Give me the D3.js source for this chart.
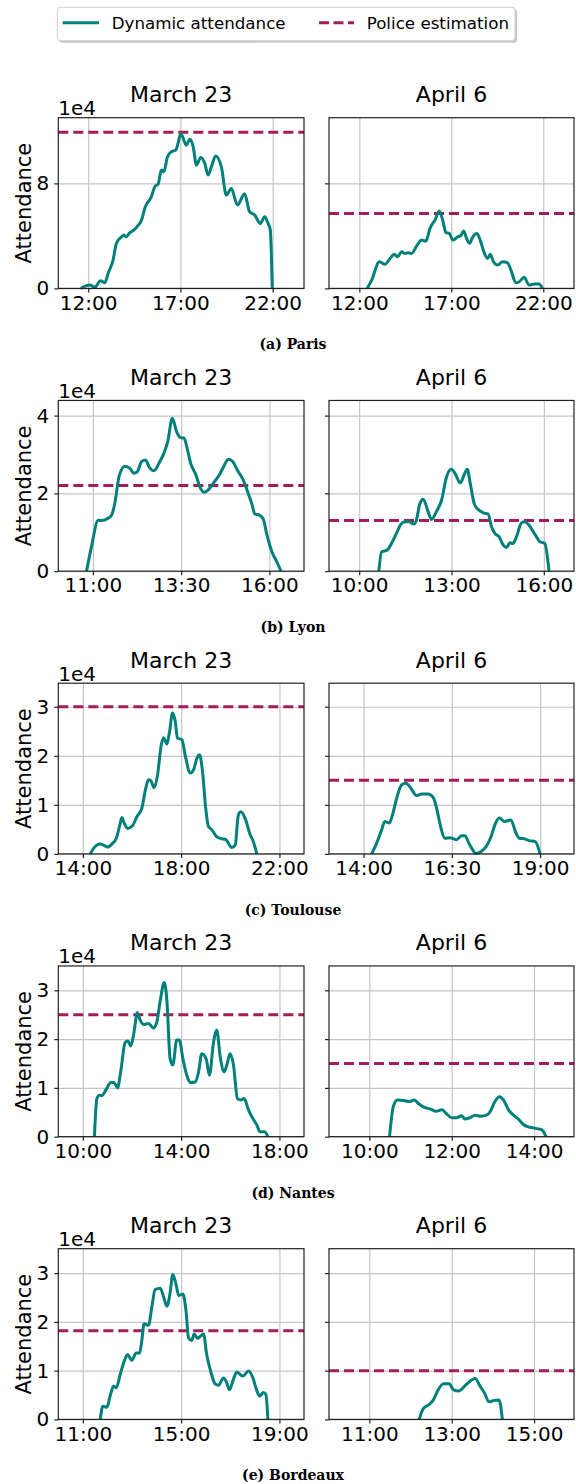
<!DOCTYPE html>
<meta charset="utf-8">
<style>
body { margin: 0; background: #fff; }
text { font-family: "DejaVu Sans", sans-serif; fill: #000; }
.grid line { stroke: #c6c6c6; stroke-width: 1.2px; }
.grid path { display: none; }
.axis path { display: none; }
.axis line { stroke: #222; stroke-width: 1.2px; }
.axis text { font-size: 20px; font-family: "DejaVu Sans", sans-serif; }
.attend { fill: none; stroke: #00807a; stroke-width: 3px; stroke-linejoin: round; }
.police { stroke: #a51c5a; stroke-width: 3px; stroke-dasharray: 10,5; }
.frame { fill: none; stroke: #222; stroke-width: 1.2px; }
.caption { font-family: "DejaVu Serif", serif; font-weight: bold; font-size: 14px; }
</style>
<body>
<script src="https://d3js.org/d3.v7.min.js"></script>
<script>

// panel names
var captions = ["(a) Paris", "(b) Lyon", "(c) Toulouse", "(d) Nantes", "(e) Bordeaux"];
var dayTitles = ["March 23", "April 6"];

// [hour of day, attendance in 1e4]
var parisMar23 = [[11.60,0],[12.09,0.25],[12.36,0.10],[12.67,0.58],[12.90,0.43],[13.08,1.14],[13.35,2.16],[13.53,3.43],[13.81,3.93],[13.93,4.06],[14.04,3.93],[14.26,4.24],[14.47,4.44],[14.65,4.70],[14.89,5.20],[15.10,6.22],[15.43,7.00],[15.61,7.74],[15.79,7.94],[15.97,9.01],[16.10,8.88],[16.30,10.03],[16.51,10.41],[16.75,10.53],[16.87,11.04],[17.02,11.80],[17.32,10.91],[17.51,11.35],[17.69,10.79],[17.87,9.39],[18.10,9.97],[18.32,9.52],[18.50,8.63],[18.68,9.26],[18.91,10.08],[19.22,9.26],[19.49,7.11],[19.76,7.61],[20.09,6.35],[20.48,7.21],[20.75,5.84],[21.03,5.58],[21.33,4.95],[21.57,5.46],[21.75,4.95],[21.87,4.50],[21.98,0]];
var parisApr6 = [[12.43,0],[12.67,0.63],[13.09,2.03],[13.39,1.83],[13.67,2.28],[13.90,2.61],[14.08,2.41],[14.30,2.79],[14.48,2.66],[14.66,2.72],[14.84,2.66],[15.12,3.25],[15.39,3.68],[15.62,3.60],[15.84,4.57],[16.11,5.20],[16.35,5.89],[16.53,5.20],[16.71,4.24],[16.89,4.19],[17.09,3.68],[17.36,3.93],[17.54,4.06],[17.67,4.37],[17.85,3.73],[17.99,3.43],[18.17,3.93],[18.39,4.19],[18.57,3.68],[18.80,2.66],[18.98,2.28],[19.12,2.61],[19.29,2.03],[19.52,1.78],[19.79,2.03],[20.06,1.95],[20.24,1.40],[20.51,0.43],[20.69,0.51],[20.96,0.84],[21.23,0.25],[21.50,0.33],[21.77,0.33],[21.95,0]];
var lyonMar23 = [[10.82,0],[10.96,0.63],[11.15,1.31],[11.25,1.30],[11.43,1.36],[11.53,1.44],[11.62,1.74],[11.75,2.47],[11.91,2.70],[12.05,2.64],[12.16,2.52],[12.26,2.56],[12.38,2.82],[12.49,2.86],[12.60,2.67],[12.73,2.58],[12.88,2.79],[13.01,3.03],[13.12,3.33],[13.25,3.93],[13.37,3.59],[13.47,3.44],[13.58,3.42],[13.68,3.12],[13.77,2.77],[13.92,2.47],[14.03,2.17],[14.15,2.03],[14.27,2.09],[14.41,2.26],[14.58,2.47],[14.71,2.70],[14.84,2.88],[14.96,2.82],[15.09,2.60],[15.26,2.34],[15.40,2.00],[15.50,1.74],[15.59,1.47],[15.72,1.44],[15.83,1.33],[15.92,0.97],[16.07,0.50],[16.21,0.24],[16.33,0]];
var lyonApr6 = [[10.64,0],[10.73,0.50],[10.91,0.54],[11.05,0.71],[11.21,0.97],[11.36,1.21],[11.48,1.27],[11.62,1.27],[11.78,1.21],[11.86,1.31],[11.97,1.73],[12.08,1.85],[12.24,1.53],[12.35,1.33],[12.51,1.53],[12.68,1.83],[12.84,2.43],[13.00,2.62],[13.11,2.52],[13.29,2.27],[13.43,2.52],[13.51,2.62],[13.62,2.21],[13.74,1.73],[13.86,1.59],[14.03,1.50],[14.19,1.47],[14.30,1.14],[14.41,0.97],[14.55,0.88],[14.68,0.67],[14.79,0.61],[14.90,0.73],[14.99,0.71],[15.11,0.88],[15.27,1.24],[15.38,1.27],[15.52,1.18],[15.71,0.95],[15.87,0.76],[16.03,0.71],[16.17,0]];
var toulouseMar23 = [[14.30,0],[14.50,0.15],[14.68,0.20],[14.84,0.18],[15.00,0.14],[15.18,0.20],[15.36,0.32],[15.49,0.56],[15.59,0.74],[15.68,0.63],[15.82,0.52],[16.03,0.58],[16.20,0.76],[16.40,0.93],[16.56,1.34],[16.67,1.51],[16.77,1.49],[16.90,1.35],[17.04,1.61],[17.19,2.22],[17.28,2.37],[17.42,2.24],[17.53,2.50],[17.65,2.87],[17.76,2.70],[17.85,2.36],[18.03,2.33],[18.16,2.02],[18.37,1.65],[18.50,1.71],[18.64,1.95],[18.75,2.02],[18.87,1.68],[19.00,0.93],[19.11,0.56],[19.25,0.49],[19.45,0.35],[19.65,0.31],[19.82,0.29],[20.06,0.13],[20.20,0.18],[20.33,0.80],[20.43,0.86],[20.60,0.73],[20.81,0.39],[20.94,0.25],[21.08,0]];
var toulouseApr6 = [[14.23,0],[14.37,0.22],[14.51,0.49],[14.60,0.66],[14.73,0.63],[14.82,0.80],[14.95,1.17],[15.08,1.41],[15.20,1.44],[15.33,1.35],[15.50,1.19],[15.64,1.22],[15.83,1.22],[15.97,1.15],[16.07,0.93],[16.18,0.56],[16.30,0.32],[16.44,0.33],[16.63,0.29],[16.78,0.37],[16.87,0.37],[16.98,0.22],[17.09,0.08],[17.18,0.01],[17.33,0.05],[17.47,0.15],[17.61,0.35],[17.74,0.63],[17.85,0.73],[17.99,0.66],[18.17,0.69],[18.32,0.42],[18.41,0.32],[18.55,0.31],[18.69,0.27],[18.86,0.25],[19.00,0]];
var nantesMar23 = [[10.47,0],[10.57,0.78],[10.68,0.85],[10.77,0.84],[10.95,0.97],[11.14,1.11],[11.27,1.11],[11.41,1.00],[11.54,1.33],[11.72,1.93],[11.83,1.96],[11.95,1.86],[12.06,2.08],[12.22,2.54],[12.33,2.39],[12.49,2.30],[12.67,2.32],[12.87,2.23],[13.01,2.35],[13.15,2.79],[13.31,3.16],[13.42,2.79],[13.55,1.60],[13.66,1.47],[13.82,1.98],[13.93,1.98],[14.07,1.60],[14.23,1.26],[14.37,1.11],[14.57,1.12],[14.71,1.33],[14.84,1.70],[15.02,1.59],[15.15,1.26],[15.32,1.94],[15.45,2.18],[15.59,1.64],[15.75,1.33],[15.86,1.47],[15.99,1.70],[16.13,1.47],[16.29,0.78],[16.43,0.75],[16.56,0.78],[16.74,0.55],[16.92,0.37],[17.08,0.24],[17.21,0.10],[17.39,0.10],[17.53,0]];
var nantesApr6 = [[10.49,0],[10.58,0.61],[10.68,0.75],[10.83,0.74],[10.97,0.72],[11.09,0.75],[11.19,0.68],[11.31,0.61],[11.47,0.57],[11.62,0.52],[11.76,0.55],[11.86,0.48],[12.00,0.39],[12.12,0.39],[12.24,0.43],[12.32,0.36],[12.45,0.39],[12.57,0.44],[12.70,0.42],[12.85,0.44],[12.93,0.51],[13.05,0.72],[13.16,0.82],[13.26,0.75],[13.38,0.55],[13.50,0.44],[13.62,0.36],[13.74,0.25],[13.86,0.20],[13.98,0.18],[14.10,0.16],[14.19,0.14],[14.29,0]];
var bordeauxMar23 = [[11.71,0],[11.81,0.27],[11.98,0.25],[12.11,0.48],[12.25,0.68],[12.36,0.65],[12.52,0.92],[12.68,1.19],[12.82,1.33],[12.99,1.21],[13.17,1.36],[13.31,1.36],[13.40,1.62],[13.49,1.96],[13.67,1.93],[13.80,2.28],[13.94,2.66],[14.15,2.69],[14.28,2.52],[14.42,2.32],[14.55,2.59],[14.66,2.97],[14.80,2.75],[14.90,2.54],[15.07,2.57],[15.20,2.22],[15.30,1.67],[15.43,1.62],[15.53,1.75],[15.67,1.66],[15.77,1.70],[15.91,1.75],[16.04,1.33],[16.21,0.97],[16.38,0.73],[16.52,0.70],[16.72,0.85],[16.83,0.78],[16.97,0.61],[17.10,0.78],[17.26,0.97],[17.51,0.89],[17.74,0.99],[17.92,0.85],[18.08,0.59],[18.19,0.48],[18.35,0.55],[18.45,0.51],[18.53,0]];
var bordeauxApr6 = [[12.21,0],[12.31,0.22],[12.46,0.31],[12.56,0.41],[12.65,0.57],[12.80,0.73],[12.94,0.73],[13.04,0.61],[13.16,0.58],[13.36,0.72],[13.57,0.84],[13.69,0.68],[13.79,0.55],[13.91,0.36],[14.03,0.39],[14.15,0.40],[14.23,0]];

var mar23Series = [parisMar23, lyonMar23, toulouseMar23, nantesMar23, bordeauxMar23];
var apr6Series = [parisApr6, lyonApr6, toulouseApr6, nantesApr6, bordeauxApr6];

// police estimation, 1e4
var policeMar23 = [11.9, 2.2, 3.0, 2.5, 1.82];
var policeApr6 = [5.7, 1.3, 1.5, 1.5, 1.0];

// axes
var yMax = [13.0, 4.39, 3.48, 3.5, 3.5];
var yTicks = [[0, 8], [0, 2, 4], [0, 1, 2, 3], [0, 1, 2, 3], [0, 1, 2, 3]];
var xDomainMar23 = [[10.38, 23.70], [10.02, 16.98], [13.0, 23.0], [9.0, 19.0], [10.0, 20.0]];
var xDomainApr6 = [[10.35, 23.67], [9.02, 16.98], [13.02, 19.96], [9.02, 14.97], [10.02, 15.97]];
var xTicksMar23 = [[12, 17, 22], [11, 13.5, 16], [14, 18, 22], [10, 14, 18], [11, 15, 19]];
var xTicksApr6 = [[12, 17, 22], [10, 13, 16], [14, 16.5, 19], [10, 12, 14], [11, 13, 15]];

var teal = "#00807a", crimson = "#a51c5a";

// layout
var panelX = [[58.3, 304], [329, 574]];
var firstTop = 117.7, rowStep = 282.75, panelH = 170.7;

var svg = d3.select("body").append("svg")
    .attr("width", 576)
    .attr("height", 1484);

function hhmm(h) {
  var hh = Math.floor(h), mm = Math.round((h - hh) * 60);
  return hh + ":" + (mm < 10 ? "0" : "") + mm;
}

var line = d3.line().curve(d3.curveMonotoneX);

captions.forEach(function(cap, i) {
  var top = firstTop + i * rowStep, bottom = top + panelH;
  var y = d3.scaleLinear().domain([0, yMax[i]]).range([bottom, top]);

  [0, 1].forEach(function(j) {
    var x0 = panelX[j][0], x1 = panelX[j][1];
    var dom = j == 0 ? xDomainMar23[i] : xDomainApr6[i];
    var ticks = j == 0 ? xTicksMar23[i] : xTicksApr6[i];
    var data = j == 0 ? mar23Series[i] : apr6Series[i];
    var police = j == 0 ? policeMar23[i] : policeApr6[i];

    var x = d3.scaleLinear().domain(dom).range([x0, x1]);
    line.x(function(d) { return x(d[0]); }).y(function(d) { return y(d[1]); });

    var g = svg.append("g");

    // grid
    g.append("g").attr("class", "grid")
        .attr("transform", "translate(0," + bottom + ")")
        .call(d3.axisBottom(x).tickValues(ticks).tickSize(-(bottom - top)).tickFormat(""));
    g.append("g").attr("class", "grid")
        .attr("transform", "translate(" + x0 + ",0)")
        .call(d3.axisLeft(y).tickValues(yTicks[i]).tickSize(-(x1 - x0)).tickFormat(""));

    g.append("line").attr("class", "police")
        .attr("x1", x0).attr("x2", x1)
        .attr("y1", y(police)).attr("y2", y(police));

    g.append("path").datum(data)
        .attr("class", "attend")
        .attr("d", line);

    g.append("rect").attr("class", "frame")
        .attr("x", x0).attr("y", top)
        .attr("width", x1 - x0).attr("height", bottom - top);

    g.append("g").attr("class", "axis")
        .attr("transform", "translate(0," + bottom + ")")
        .call(d3.axisBottom(x).tickValues(ticks).tickSize(4).tickPadding(3).tickFormat(hhmm));

    var ya = d3.axisLeft(y).tickValues(yTicks[i]).tickSize(4).tickPadding(5)
        .tickFormat(j == 0 ? d3.format("d") : "");
    g.append("g").attr("class", "axis")
        .attr("transform", "translate(" + x0 + ",0)")
        .call(ya);

    g.append("text")
        .attr("x", (x0 + x1) / 2).attr("y", top - 15.5)
        .attr("text-anchor", "middle")
        .style("font-size", "22px")
        .text(dayTitles[j]);

    if (j == 0) {
      g.append("text")
          .attr("x", x0).attr("y", top - 2.7)
          .style("font-size", "20px")
          .text("1e4");
      g.append("text")
          .attr("transform", "translate(30.5," + (top + bottom) / 2 + ") rotate(-90)")
          .attr("text-anchor", "middle")
          .style("font-size", "21px")
          .text("Attendance");
    }
  });

  svg.append("text").attr("class", "caption")
      .attr("x", 293).attr("y", bottom + 61)
      .attr("text-anchor", "middle")
      .text(cap);
});

// legend
var leg = svg.append("g");
leg.append("rect")
    .attr("x", 59.3).attr("y", 9.3).attr("width", 457.7).attr("height", 33.4)
    .attr("rx", 3).attr("fill", "#a0a0a0").attr("opacity", 0.6);
leg.append("rect")
    .attr("x", 57.3).attr("y", 7.3).attr("width", 457.7).attr("height", 33.4)
    .attr("rx", 3).attr("fill", "#fff").attr("stroke", "#d0d0d0").attr("stroke-width", 1);
leg.append("line")
    .attr("x1", 62.7).attr("x2", 99).attr("y1", 22.7).attr("y2", 22.7)
    .attr("stroke", teal).attr("stroke-width", 3);
leg.append("text").attr("x", 111.7).attr("y", 28.8)
    .style("font-size", "16.7px").text("Dynamic attendance");
leg.append("line")
    .attr("x1", 319).attr("x2", 354).attr("y1", 22.7).attr("y2", 22.7)
    .attr("stroke", crimson).attr("stroke-width", 3).attr("stroke-dasharray", "10,4.5");
leg.append("text").attr("x", 366.7).attr("y", 28.8)
    .style("font-size", "16.7px").text("Police estimation");

</script>
</body>
